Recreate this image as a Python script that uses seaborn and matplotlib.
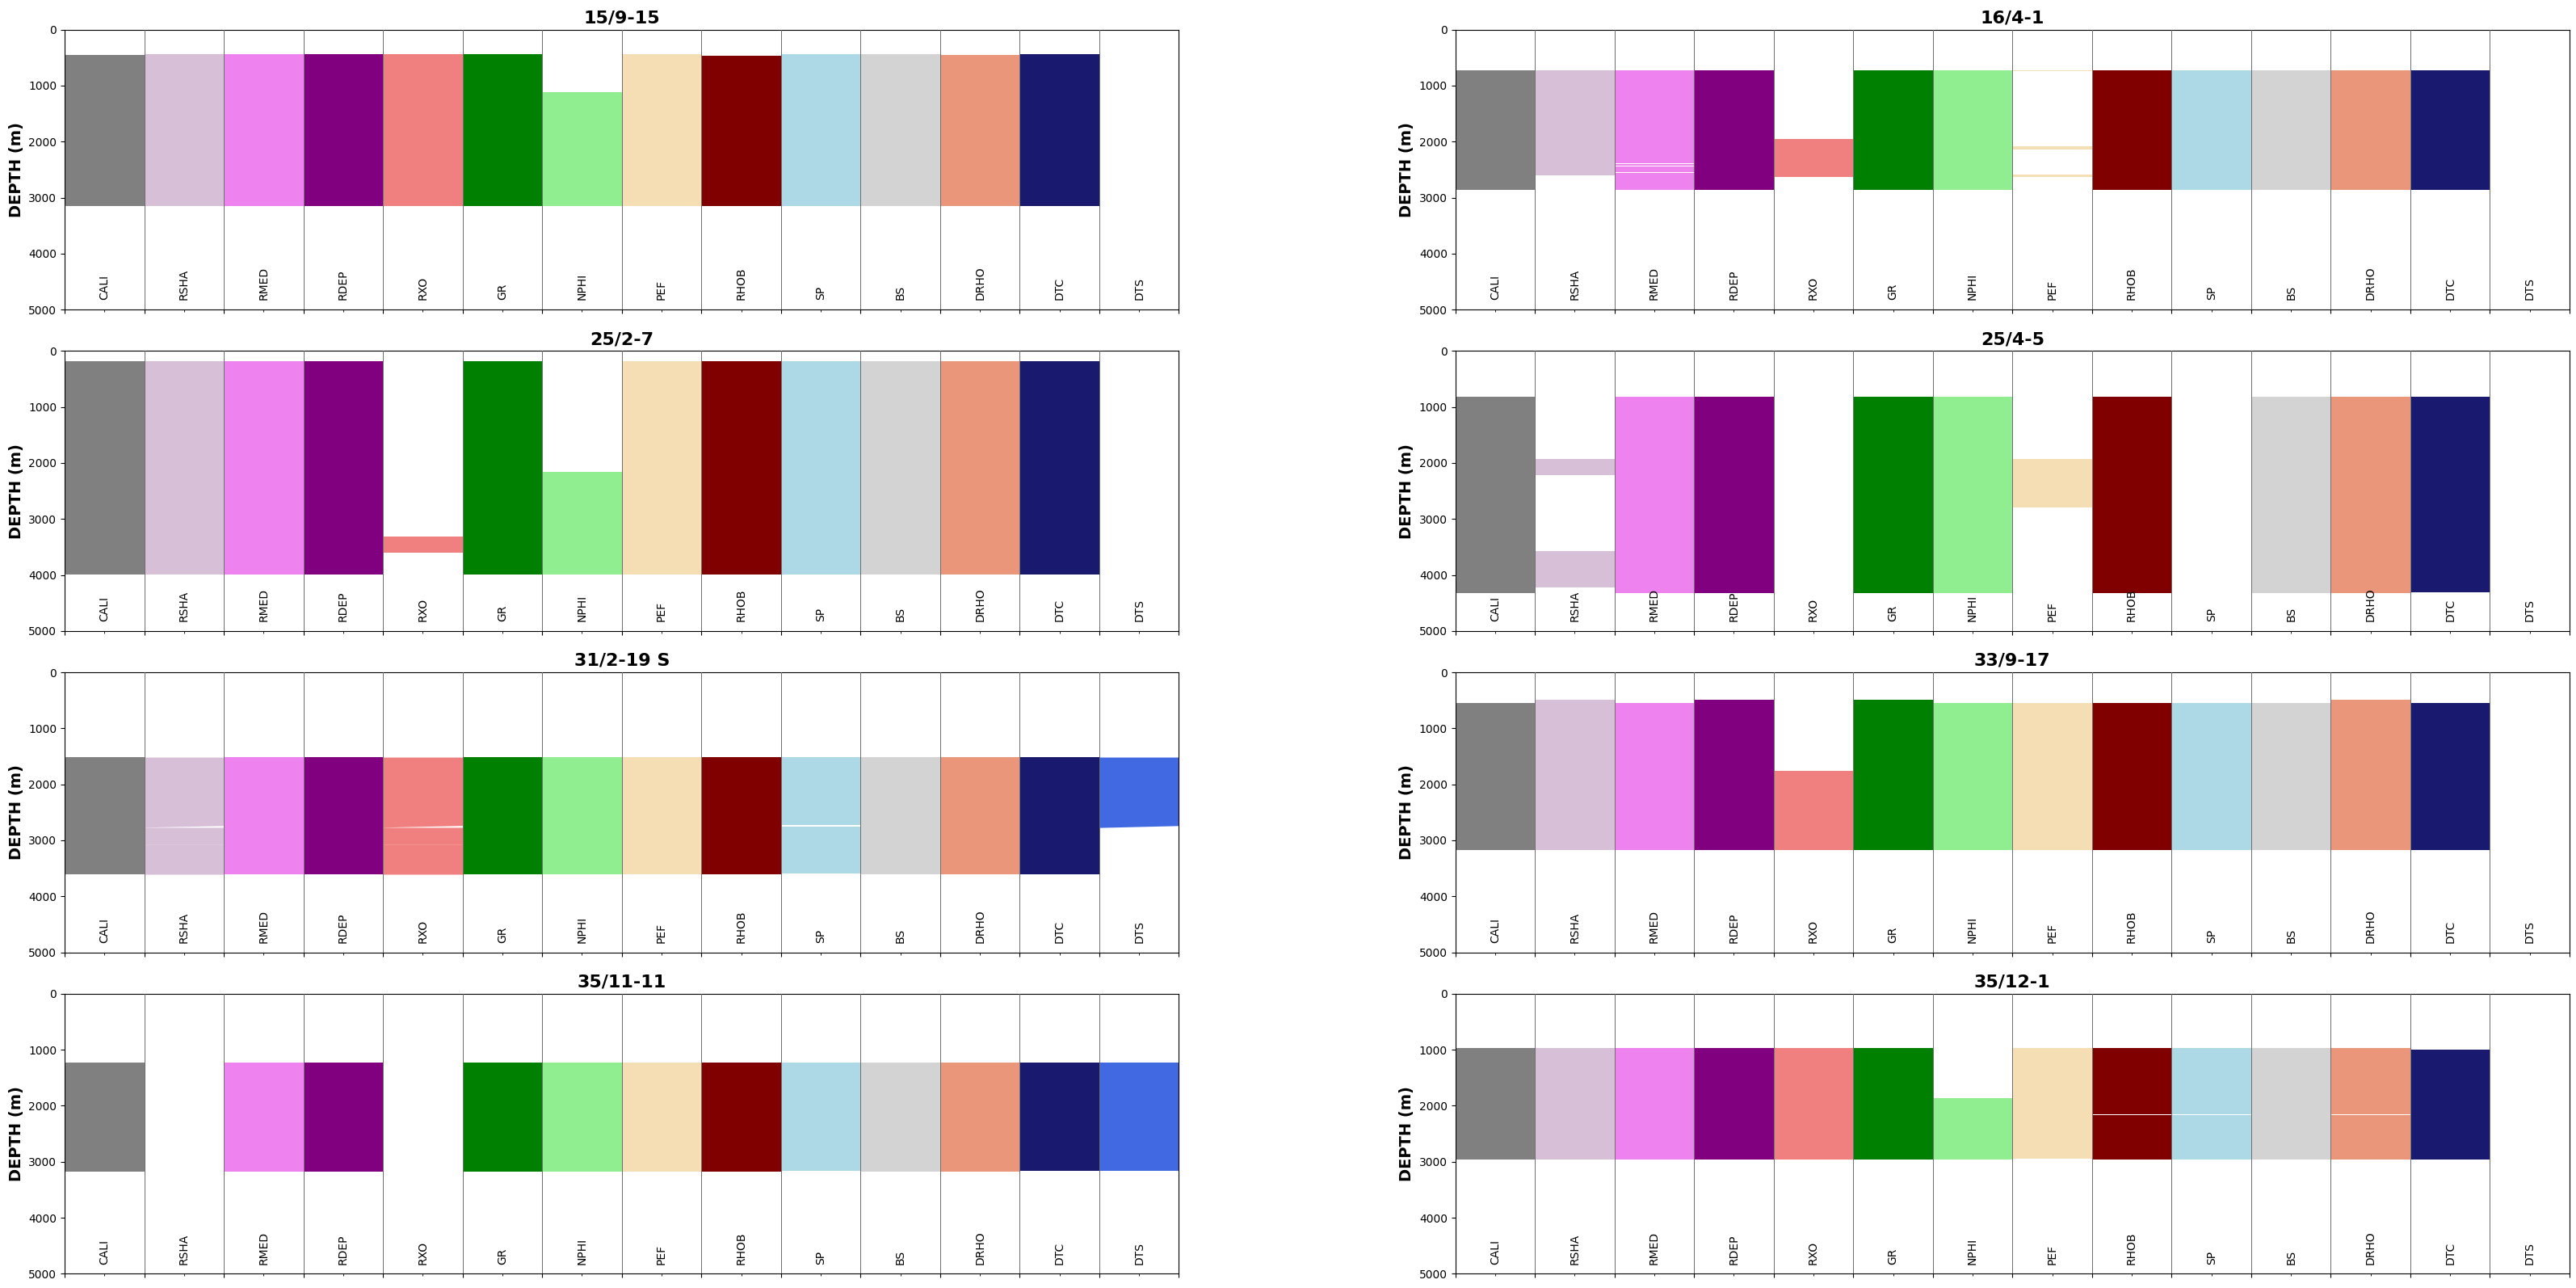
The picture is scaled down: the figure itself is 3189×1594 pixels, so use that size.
import numpy as np
import matplotlib
matplotlib.use("Agg")
import matplotlib.pyplot as plt
import seaborn as sns

# ---------------- data ----------------
CURVES = ['CALI', 'RSHA', 'RMED', 'RDEP', 'RXO', 'GR', 'NPHI', 'PEF',
          'RHOB', 'SP', 'BS', 'DRHO', 'DTC', 'DTS']
COLORS = ['grey', 'thistle', 'violet', 'purple', 'lightcoral', 'green',
          'lightgreen', 'wheat', 'maroon', 'lightblue', 'lightgray',
          'darksalmon', 'midnightblue', 'royalblue']
WELLS = ['15/9-15', '16/4-1', '25/2-7', '25/4-5',
         '31/2-19 S', '33/9-17', '35/11-11', '35/12-1']
DEPTH_TICKS = [0, 1000, 2000, 3000, 4000, 5000]

# coverage intervals (top, bottom) in metres; a 3rd value = bottom at left edge (tapered end)
W_15_9_15 = {
    'CALI': [(458, 3157)], 'RSHA': [(443, 3157)], 'RMED': [(443, 3157)],
    'RDEP': [(443, 3157)], 'RXO': [(443, 3157)], 'GR': [(443, 3157)],
    'NPHI': [(1109, 3157)], 'PEF': [(443, 2433), (2435, 2616), (2618, 3157)],
    'RHOB': [(472, 3157)], 'SP': [(443, 3157)], 'BS': [(443, 3157)],
    'DRHO': [(458, 3157)], 'DTC': [(443, 3157)], 'DTS': [],
}
W_16_4_1 = {
    'CALI': [(723, 2856)], 'RSHA': [(723, 2096), (2098, 2481), (2483, 2608)],
    'RMED': [(723, 2047), (2049, 2144), (2146, 2264), (2266, 2392), (2397, 2403),
             (2407, 2432), (2437, 2500), (2505, 2512), (2516, 2552), (2557, 2600),
             (2602, 2856)],
    'RDEP': [(723, 2856)], 'RXO': [(1952, 2627)], 'GR': [(723, 2856)],
    'NPHI': [(723, 2856)], 'PEF': [(723, 740), (2077, 2145), (2593, 2632)],
    'RHOB': [(723, 2856)], 'SP': [(723, 2856)], 'BS': [(723, 2856)],
    'DRHO': [(723, 2856)], 'DTC': [(723, 2856)], 'DTS': [],
}
W_25_2_7 = {
    'CALI': [(178, 3990)], 'RSHA': [(178, 3990)], 'RMED': [(178, 3990)],
    'RDEP': [(178, 3990)], 'RXO': [(3317, 3606)], 'GR': [(178, 3990)],
    'NPHI': [(2159, 3990)], 'PEF': [(178, 3990)], 'RHOB': [(178, 3990)],
    'SP': [(178, 3990)], 'BS': [(178, 3990)], 'DRHO': [(178, 3990)],
    'DTC': [(188, 3990)], 'DTS': [],
}
W_25_4_5 = {
    'CALI': [(822, 4317)], 'RSHA': [(1923, 2212), (3567, 4221)],
    'RMED': [(822, 3735), (3737, 4317)], 'RDEP': [(822, 4317)], 'RXO': [],
    'GR': [(822, 4317)], 'NPHI': [(822, 4317)], 'PEF': [(1923, 2798)],
    'RHOB': [(822, 4317)], 'SP': [], 'BS': [(822, 4317)],
    'DRHO': [(822, 4317)], 'DTC': [(822, 4308)], 'DTS': [],
}
W_31_2_19_S = {
    'CALI': [(1514, 3071), (3073, 3606)],
    'RSHA': [(1514, 2737, 2766), (2768, 3071), (3073, 3606)],
    'RMED': [(1514, 3084), (3086, 3606)], 'RDEP': [(1514, 3084), (3086, 3606)],
    'RXO': [(1514, 2735, 2766), (2768, 3071), (3073, 3606)],
    'GR': [(1514, 3606)], 'NPHI': [(1514, 3061), (3063, 3606)],
    'PEF': [(1514, 3606)], 'RHOB': [(1514, 3071), (3073, 3606)],
    'SP': [(1514, 2722), (2750, 3063), (3065, 3591)], 'BS': [(1514, 3606)],
    'DRHO': [(1514, 3071), (3073, 3606)], 'DTC': [(1514, 3606)],
    'DTS': [(1514, 2737, 2771)],
}
W_33_9_17 = {
    'CALI': [(543, 3173)], 'RSHA': [(486, 3173)], 'RMED': [(543, 3173)],
    'RDEP': [(486, 3173)], 'RXO': [(1755, 3173)], 'GR': [(486, 3173)],
    'NPHI': [(543, 3173)], 'PEF': [(543, 3173)], 'RHOB': [(543, 3173)],
    'SP': [(543, 3173)], 'BS': [(543, 3173)], 'DRHO': [(486, 3173)],
    'DTC': [(543, 3173)], 'DTS': [],
}
W_35_11_11 = {
    'CALI': [(1224, 3181)], 'RSHA': [], 'RMED': [(1224, 3181)],
    'RDEP': [(1224, 3181)], 'RXO': [], 'GR': [(1224, 3181)],
    'NPHI': [(1224, 3181)], 'PEF': [(1224, 3181)], 'RHOB': [(1224, 3181)],
    'SP': [(1224, 3157)], 'BS': [(1224, 3181)], 'DRHO': [(1224, 3181)],
    'DTC': [(1224, 3167)], 'DTS': [(1224, 1232), (1235, 1572), (1576, 3167)],
}
W_35_12_1 = {
    'CALI': [(974, 2965)], 'RSHA': [(974, 2965)], 'RMED': [(974, 2965)],
    'RDEP': [(974, 2965)], 'RXO': [(974, 2965)], 'GR': [(965, 2965)],
    'NPHI': [(1857, 2965)], 'PEF': [(974, 2951)],
    'RHOB': [(974, 2158), (2170, 2965)], 'SP': [(974, 2158), (2170, 2965)],
    'BS': [(974, 2965)], 'DRHO': [(974, 2158), (2170, 2965)],
    'DTC': [(993, 2965)], 'DTS': [],
}
COVERAGE = [W_15_9_15, W_16_4_1, W_25_2_7, W_25_4_5,
            W_31_2_19_S, W_33_9_17, W_35_11_11, W_35_12_1]


def profile(intervals):
    depth, frac = [], []
    for iv in intervals:
        if len(iv) == 2:
            t, b = iv
            depth += [t, t, b, b]
        else:
            t, br, bl = iv
            depth += [t, t, br, bl]
        frac += [0, 1, 1, 0]
    return np.array(depth, float), np.array(frac, float)


# ---------------- plot ----------------
sns.set_style("ticks", {"axes.edgecolor": "black", "xtick.color": "black",
                        "ytick.color": "black", "text.color": "black",
                        "axes.labelcolor": "black"})
plt.rcParams['font.family'] = ['DejaVu Sans']

fig, axes = plt.subplots(4, 2, figsize=(31.89, 15.94), dpi=100)
fig.subplots_adjust(left=0.0251, right=0.9975, top=0.977, bottom=0.0111,
                    wspace=0.248, hspace=0.148)

for ax, well, cov in zip(axes.flat, WELLS, COVERAGE):
    for i, (curve, color) in enumerate(zip(CURVES, COLORS)):
        d, f = profile(cov.get(curve, []))
        if len(d):
            ax.fill_betweenx(d, i, i + f, color=color, lw=0)
        ax.text(i + 0.5, 4830, curve, rotation=90, ha='center', va='bottom',
                fontsize=10)
    for i in range(1, len(CURVES)):
        ax.axvline(i, color='#707070', lw=0.72, zorder=3)
    ax.set_xlim(0, len(CURVES))
    ax.set_ylim(5000, 0)
    ax.set_xticks(range(len(CURVES) + 1))
    ax.set_xticklabels([])
    ax.set_xticks(np.arange(0.5, len(CURVES), 1), minor=True)
    ax.set_yticks(DEPTH_TICKS)
    ax.tick_params(axis='both', which='major', length=3.5, width=0.8, labelsize=10)
    ax.tick_params(axis='x', which='minor', length=2, width=0.6)
    for s in ax.spines.values():
        s.set_linewidth(0.8)
    ax.set_ylabel('DEPTH (m)', fontsize=14, fontweight='bold')
    ax.set_title(well, fontsize=16, fontweight='bold')

fig.savefig('out.png', dpi=100)
